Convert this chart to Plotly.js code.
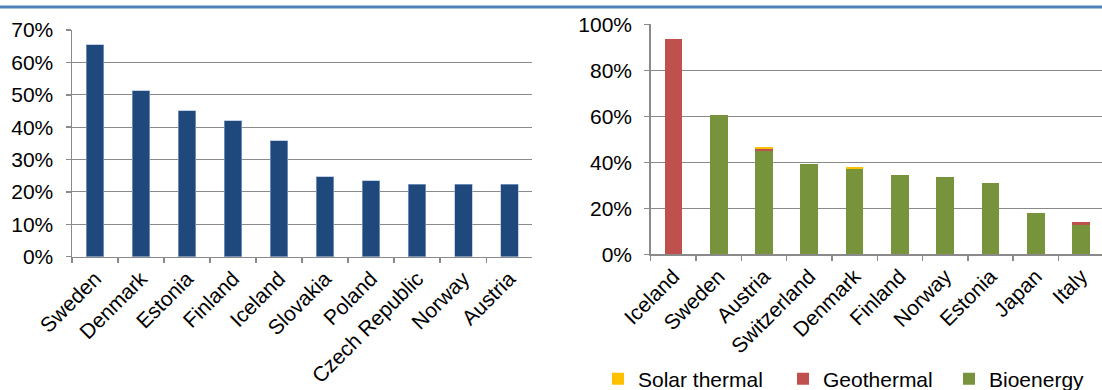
<!DOCTYPE html>
<html>
<head>
<meta charset="utf-8">
<script src="https://cdn.plot.ly/plotly-3.0.1.min.js"></script>
<style>
  html, body { margin: 0; padding: 0; background: #fff; }
  #chart { width: 1102px; height: 390px; }
</style>
</head>
<body>
<div id="chart"></div>
<script>
// Left chart: share (one series)
const leftCategories = ['Sweden', 'Denmark', 'Estonia', 'Finland', 'Iceland', 'Slovakia', 'Poland', 'Czech Republic', 'Norway', 'Austria'];
const leftValues = [0.654, 0.513, 0.451, 0.420, 0.358, 0.247, 0.235, 0.224, 0.224, 0.224];

// Right chart: stacked by source
const rightCategories = ['Iceland', 'Sweden', 'Austria', 'Switzerland', 'Denmark', 'Finland', 'Norway', 'Estonia', 'Japan', 'Italy'];
const bioenergy = [0, 0.606, 0.450, 0.391, 0.371, 0.346, 0.336, 0.311, 0.181, 0.129];
const geothermal = [0.935, 0, 0.007, 0, 0, 0, 0, 0, 0, 0.011];
const solarThermal = [0, 0, 0.009, 0, 0.009, 0, 0, 0, 0, 0];

const leftTicks = [0, 0.1, 0.2, 0.3, 0.4, 0.5, 0.6, 0.7];
const rightTicks = [0, 0.2, 0.4, 0.6, 0.8, 1.0];

const W = 1102, H = 390;
const FONT = 'Liberation Sans, Arial, sans-serif';
const FS = 21;
const GRID = '#8a8a8a';

const traces = [
  {
    type: 'bar', x: leftCategories, y: leftValues, xaxis: 'x', yaxis: 'y',
    marker: { color: '#1F497D', line: { color: '#9fb4d3', width: 0.6 } },
    width: 0.38, showlegend: false, hoverinfo: 'x+y'
  },
  {
    type: 'bar', name: 'Bioenergy', x: rightCategories, y: bioenergy, xaxis: 'x2', yaxis: 'y2',
    marker: { color: '#77933C' }, width: 0.39, legend: 'legend3'
  },
  {
    type: 'bar', name: 'Geothermal', x: rightCategories, y: geothermal, xaxis: 'x2', yaxis: 'y2',
    marker: { color: '#C0504D' }, width: 0.39, legend: 'legend2'
  },
  {
    type: 'bar', name: 'Solar thermal', x: rightCategories, y: solarThermal, xaxis: 'x2', yaxis: 'y2',
    marker: { color: '#FFC000' }, width: 0.39, legend: 'legend'
  }
];

const xCommon = {
  type: 'category', showline: true, linecolor: GRID, linewidth: 1.5,
  ticks: 'outside', tickson: 'boundaries', ticklen: 5, tickcolor: GRID, tickwidth: 1.5,
  tickangle: -45, showgrid: false, zeroline: false, automargin: false,
  tickfont: { family: FONT, size: FS, color: '#000' }, fixedrange: true
};
const yCommon = {
  showline: true, linecolor: GRID, linewidth: 1.5,
  ticks: 'outside', ticklen: 5, tickcolor: GRID, tickwidth: 1.5,
  showgrid: true, gridcolor: GRID, gridwidth: 1, zeroline: false, automargin: false,
  tickformat: '.0%', ticklabelstandoff: 8,
  tickfont: { family: FONT, size: FS, color: '#000' }, fixedrange: true
};

function legendAt(px) {
  return {
    orientation: 'h', x: px / W, xanchor: 'left', y: 11 / H, yanchor: 'middle',
    font: { family: FONT, size: FS, color: '#000' },
    bgcolor: 'rgba(0,0,0,0)', itemwidth: 30
  };
}

const layout = {
  width: W, height: H,
  margin: { l: 0, r: 0, t: 0, b: 0, autoexpand: false },
  paper_bgcolor: '#fff', plot_bgcolor: 'rgba(0,0,0,0)',
  barmode: 'stack',
  font: { family: FONT, size: FS, color: '#000' },
  xaxis: Object.assign({}, xCommon, {
    domain: [72 / W, 532.3 / W], anchor: 'y', range: [-0.5, 9.5]
  }),
  yaxis: Object.assign({}, yCommon, {
    domain: [(H - 256.7) / H, (H - 30) / H], anchor: 'x',
    range: [0, 0.7], tickvals: leftTicks
  }),
  xaxis2: Object.assign({}, xCommon, {
    domain: [650.7 / W, 1], anchor: 'y2', range: [-0.5, 9.46]
  }),
  yaxis2: Object.assign({}, yCommon, {
    domain: [(H - 254.3) / H, (H - 24.3) / H], anchor: 'x2',
    range: [0, 1], tickvals: rightTicks
  }),
  legend: legendAt(598),
  legend2: legendAt(783),
  legend3: legendAt(949),
  shapes: [
    {
      type: 'line', xref: 'paper', yref: 'paper', x0: 0, x1: 1,
      y0: (H - 7) / H, y1: (H - 7) / H,
      line: { color: '#4F81BD', width: 3 }
    }
  ]
};

Plotly.newPlot('chart', traces, layout, { displayModeBar: false, staticPlot: true });
</script>
</body>
</html>
